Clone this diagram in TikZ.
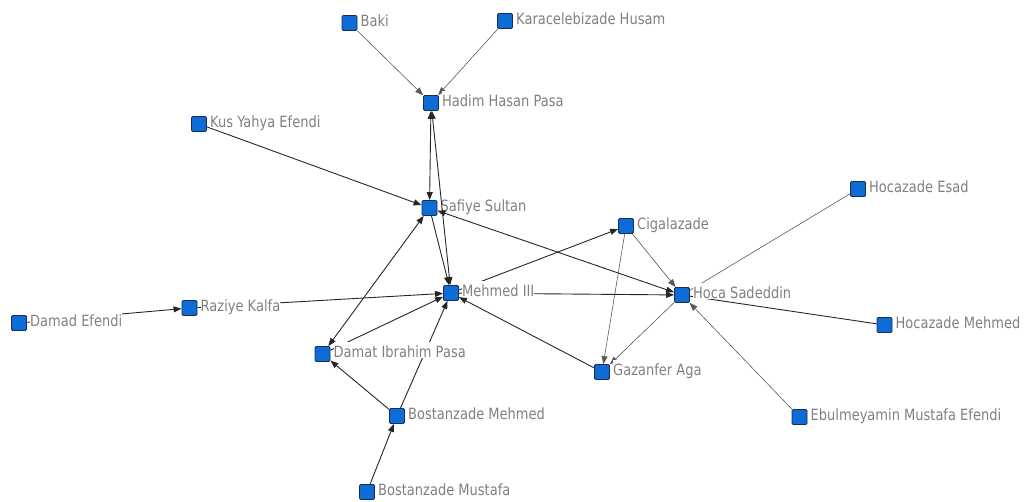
\documentclass[tikz,border=0pt]{standalone}
\usepackage{fontspec}
\setmainfont[FakeStretch=0.84]{DejaVu Sans}
\usetikzlibrary{arrows.meta}
\definecolor{nodeblue}{RGB}{14,108,214}
\definecolor{nodeedge}{RGB}{25,45,85}
\definecolor{labelgrey}{RGB}{128,128,128}
\pgfdeclarelayer{bg}
\pgfsetlayers{bg,main}

% one actor: a blue square with its name to the right
\newcommand\actor[4]{%
  \node[tag] (#1-l) at (#2+11,#3+3.5) {#4};
  \node[actorbox] (#1) at (#2,#3) {};
}

\begin{document}
\begin{tikzpicture}[x=1pt,y=-1pt,
  actorbox/.style={draw=nodeedge, fill=nodeblue, line width=0.8pt, rounded corners=1.2pt,
    minimum size=15pt, inner sep=0pt},
  tag/.style={anchor=base west, fill=white, inner xsep=0pt, inner ysep=1pt,
    text height=14.5pt, text depth=0pt, text=labelgrey, font=\fontsize{15.5}{17}\selectfont},
  tie/.style={draw=black!85, line width=0.9pt},
  weak/.style={draw=black!65, line width=0.6pt},
  arr/.style={-{Triangle[length=8pt,width=6pt]}},
  biarr/.style={{Triangle[length=8pt,width=6pt]}-{Triangle[length=8pt,width=6pt]}},
]
\useasboundingbox (0,0) rectangle (1029,502);

\actor{baki}{349.5}{23}{Baki}
\actor{kara}{505}{21}{Karacelebizade Husam}
\actor{hadim}{431}{103}{Hadim Hasan Pasa}
\actor{kus}{199}{124}{Kus Yahya Efendi}
\actor{safiye}{429.5}{208}{Safiye Sultan}
\actor{ciga}{626}{226}{Cigalazade}
\actor{esad}{858}{189}{Hocazade Esad}
\actor{mehmed}{451}{293}{Mehmed III}
\actor{hoca}{682}{295}{Hoca Sadeddin}
\actor{damad}{19}{323}{Damad Efendi}
\actor{raziye}{189.5}{308}{Raziye Kalfa}
\actor{hmehmed}{884.5}{325}{Hocazade Mehmed}
\actor{damat}{322.5}{354}{Damat Ibrahim Pasa}
\actor{gazan}{602}{372}{Gazanfer Aga}
\actor{bmehmed}{397}{416}{Bostanzade Mehmed}
\actor{ebul}{799.5}{417}{Ebulmeyamin Mustafa Efendi}
\actor{bmustafa}{367}{492}{Bostanzade Mustafa}

\begin{pgfonlayer}{bg}
  \draw[weak,arr] (baki) -- (hadim);
  \draw[weak,arr] (kara) -- (hadim);
  \draw[tie,biarr] (hadim) -- (safiye);
  \draw[tie,arr] (kus) -- (safiye);
  \draw[tie,arr] (safiye) -- (mehmed);
  \draw[tie,biarr] (damat) -- (safiye);
  \draw[tie,arr] (damat) -- (mehmed);
  \draw[tie,arr] (raziye) -- (mehmed);
  \draw[tie,arr] (damad) -- (raziye);
  \draw[tie,arr] (bmehmed) -- (mehmed);
  \draw[tie,arr] (bmehmed) -- (damat);
  \draw[tie,arr] (bmustafa) -- (bmehmed);
  \draw[tie,arr] (mehmed) -- (ciga);
  \draw[tie,arr] (mehmed) -- (hoca);
  \draw[tie,arr] (gazan) -- (mehmed);
  \draw[weak,arr] (ciga) -- (gazan);
  \draw[weak,arr] (ciga) -- (hoca);
  \draw[weak,arr] (hoca) -- (gazan);
  \draw[weak] (esad) -- (hoca);
  \draw[tie] (hmehmed) -- (hoca);
  \draw[weak,arr] (ebul) -- (hoca);
\end{pgfonlayer}

% ties drawn above the name tags
\draw[tie,biarr] (mehmed) -- (hadim);
\draw[tie,biarr] (safiye) -- (hoca);
\end{tikzpicture}
\end{document}
